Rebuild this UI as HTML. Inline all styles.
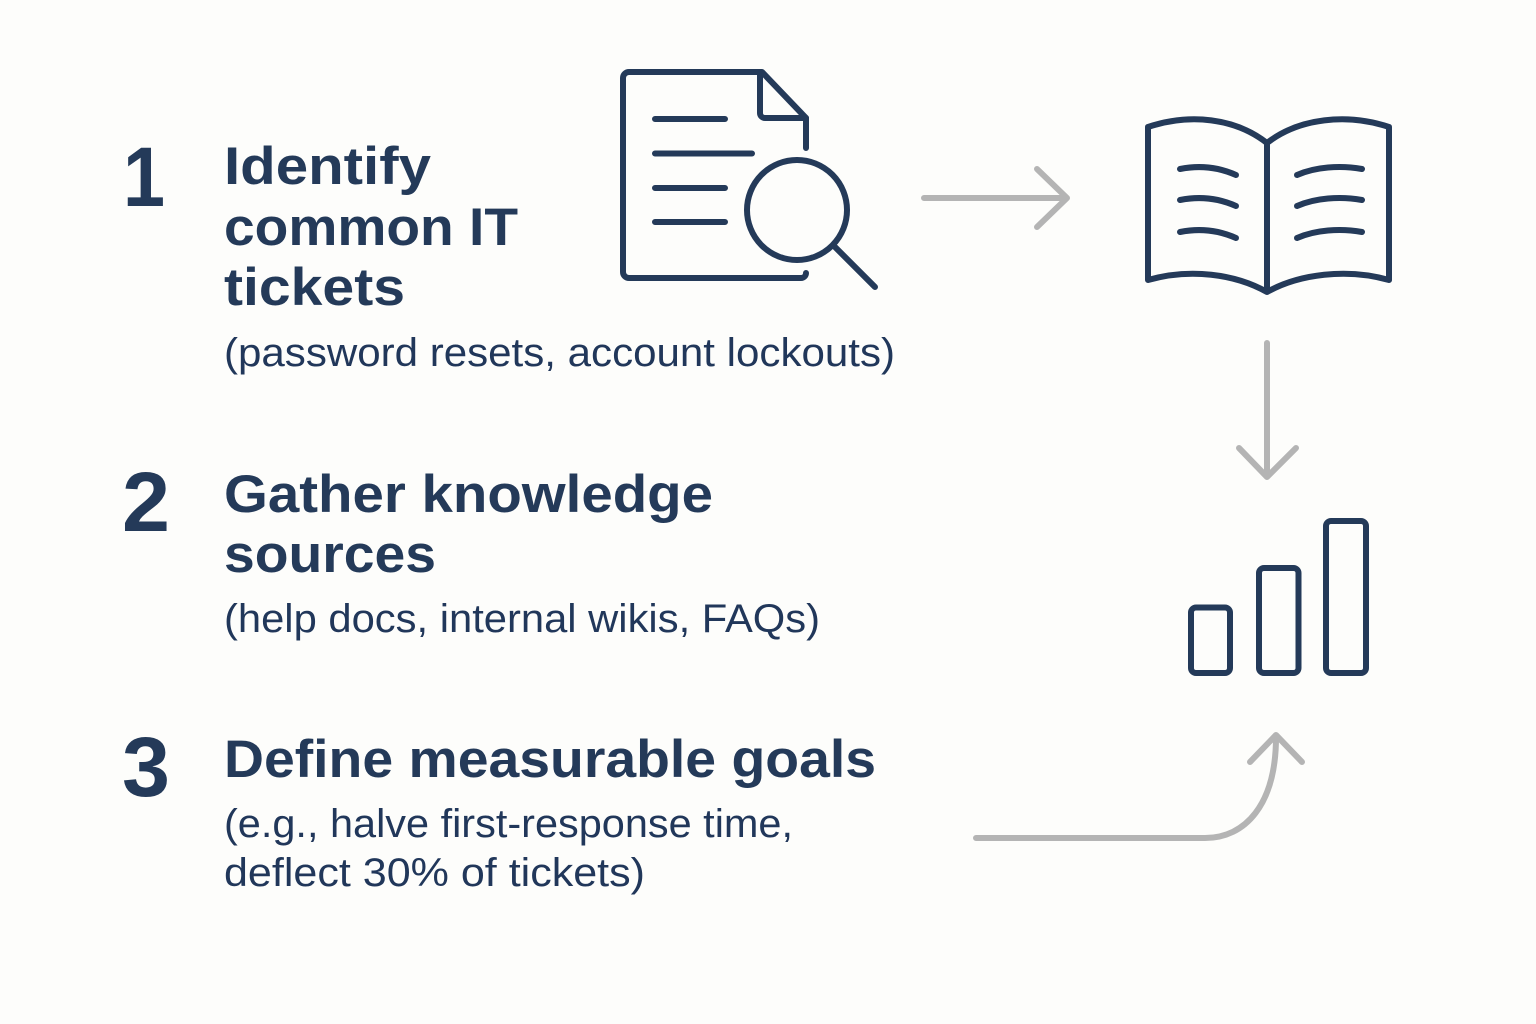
<!DOCTYPE html>
<html><head><meta charset="utf-8"><style>
html,body{margin:0;padding:0;background:#fdfdfb}
svg{display:block}
text{font-family:"Liberation Sans",sans-serif;fill:#243a59}
.h{font-size:53px;font-weight:700}
.s{font-size:40px;fill:#21375a}
.n{font-size:84px;font-weight:700}
.i{fill:none;stroke:#243a59;stroke-width:6;stroke-linecap:round;stroke-linejoin:round}
.a{fill:none;stroke:#b4b4b4;stroke-width:6;stroke-linecap:round;stroke-linejoin:round}
</style></head><body>
<svg width="1536" height="1024" viewBox="0 0 1536 1024" xmlns="http://www.w3.org/2000/svg">
<rect width="1536" height="1024" fill="#fdfdfb"/>
<text class="n" x="123" y="206" textLength="42" lengthAdjust="spacingAndGlyphs">1</text>
<text class="n" x="122" y="531" textLength="48" lengthAdjust="spacingAndGlyphs">2</text>
<text class="n" x="122" y="796" textLength="48" lengthAdjust="spacingAndGlyphs">3</text>

<text class="h" x="224" y="184" textLength="207" lengthAdjust="spacingAndGlyphs">Identify</text>
<text class="h" x="224" y="245" textLength="294" lengthAdjust="spacingAndGlyphs">common IT</text>
<text class="h" x="224" y="305" textLength="181" lengthAdjust="spacingAndGlyphs">tickets</text>
<text class="s" x="224" y="366" textLength="671" lengthAdjust="spacingAndGlyphs">(password resets, account lockouts)</text>

<text class="h" x="224" y="512" textLength="489" lengthAdjust="spacingAndGlyphs">Gather knowledge</text>
<text class="h" x="224" y="572" textLength="212" lengthAdjust="spacingAndGlyphs">sources</text>
<text class="s" x="224" y="632" textLength="596" lengthAdjust="spacingAndGlyphs">(help docs, internal wikis, FAQs)</text>

<text class="h" x="224" y="777" textLength="652" lengthAdjust="spacingAndGlyphs">Define measurable goals</text>
<text class="s" x="224" y="837" textLength="569" lengthAdjust="spacingAndGlyphs">(e.g., halve first-response time,</text>
<text class="s" x="224" y="886" textLength="421" lengthAdjust="spacingAndGlyphs">deflect 30% of tickets)</text>

<!-- document -->
<path class="i" d="M806 148V118L762 72H629a6 6 0 0 0-6 6V272a6 6 0 0 0 6 6H801a5 5 0 0 0 5-5"/>
<path class="i" d="M760 72V113a5 5 0 0 0 5 5H806"/>
<path class="i" d="M655 119H725M655 153.500H752M655 188H725M655 222H725"/>
<circle class="i" cx="797" cy="210" r="50"/>
<path class="i" d="M835 247L875 287"/>

<!-- book -->
<path class="i" d="M1267 143C1235 118 1190 113 1148 127V280C1190 268 1235 274 1267 292C1299 274 1347 268 1389 280V127C1347 113 1299 118 1267 143V292"/>
<path class="i" d="M1180 169C1200 165 1218 167 1236 175M1180 200C1200 196 1218 198 1236 206M1180 232C1200 228 1218 230 1236 238"/>
<path class="i" d="M1297 175C1315 167 1340 165 1362 169M1297 206C1315 198 1340 196 1362 200M1297 238C1315 230 1340 228 1362 232"/>

<!-- bars -->
<rect class="i" x="1191" y="607.500" width="39" height="65.500" rx="5"/>
<rect class="i" x="1259" y="568" width="39.500" height="105" rx="5"/>
<rect class="i" x="1326" y="521" width="40" height="152" rx="5"/>

<!-- arrows -->
<path class="a" d="M976 838H1205C1245 838 1276 805 1276 737M1250 762L1276 735L1302 762"/>
<path class="a" d="M924 198H1067M1037 169L1067 198L1037 227"/>
<path class="a" d="M1267 343V477M1239 448L1267 477L1296 448"/>
</svg>
</body></html>
